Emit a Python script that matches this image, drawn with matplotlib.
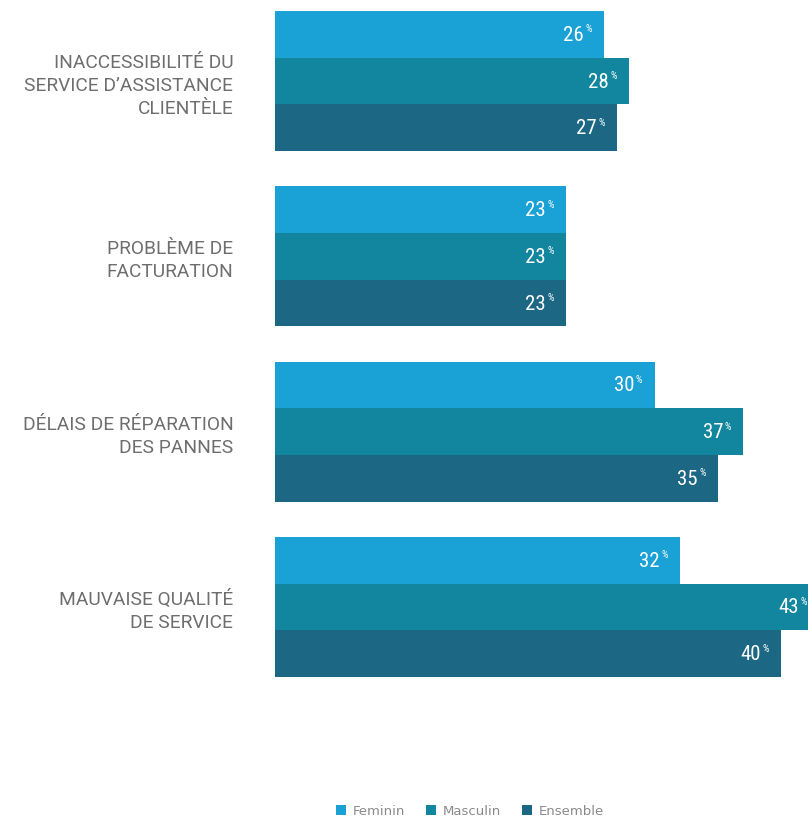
import numpy as np
import matplotlib
matplotlib.use("Agg")
import matplotlib.pyplot as plt
from matplotlib.patches import Patch

categories = [
    "INACCESSIBILITÉ DU\nSERVICE D\u2019ASSISTANCE\nCLIENTÈLE",
    "PROBLÈME DE\nFACTURATION",
    "DÉLAIS DE RÉPARATION\nDES PANNES",
    "MAUVAISE QUALITÉ\nDE SERVICE",
]
series = ["Feminin", "Masculin", "Ensemble"]
feminin = [26, 23, 30, 32]
masculin = [28, 23, 37, 43]
ensemble = [27, 23, 35, 40]
colors = ["#1aa1d5", "#13869f", "#1c6884"]

label_grey = "#6e6e6e"
value_font = ["Liberation Sans Narrow", "Roboto Condensed", "Roboto"]

fig = plt.figure(figsize=(8.08, 8.18), dpi=100)
ax = fig.add_axes([275 / 808, 1 - 677 / 818, 533 / 808, 666 / 818])

group_step = 3.75
values = [feminin, masculin, ensemble]
for j, (name, vals, c) in enumerate(zip(series, values, colors)):
    ys = np.arange(len(categories)) * group_step + j + 0.5
    ax.barh(ys, vals, height=1.0, color=c, edgecolor="none")
    for y, v in zip(ys, vals):
        ax.annotate(str(v), (v, y), xytext=(-20, -1), textcoords="offset pixels",
                    ha="right", va="center", color="white", fontsize=15,
                    family=value_font, annotation_clip=False)
        ax.annotate("%", (v, y), xytext=(-12, 5), textcoords="offset pixels",
                    ha="right", va="center", color="white", fontsize=7.5,
                    family=value_font, annotation_clip=False)

ax.set_xlim(0, 533 / 12.65)
ax.set_ylim(14.25, 0)
centers = np.arange(len(categories)) * group_step + 1.5
ax.set_yticks(centers)
ax.set_yticklabels(categories, fontsize=13.8, color=label_grey, family="Roboto",
                   linespacing=1.36)
ax.tick_params(axis="y", length=0, pad=30)
ax.set_xticks([])
for s in ax.spines.values():
    s.set_visible(False)

handles = [Patch(facecolor=c, edgecolor="none", label=n) for n, c in zip(series, colors)]
leg = fig.legend(handles=handles, loc="lower center", bbox_to_anchor=(0.582, -0.014),
                 ncol=3, frameon=False, fontsize=9.5, handlelength=0.75, handleheight=0.75,
                 handletextpad=0.5, columnspacing=1.6)
for t in leg.get_texts():
    t.set_color("#8a8a8a")

fig.savefig("out.png", dpi=100)
